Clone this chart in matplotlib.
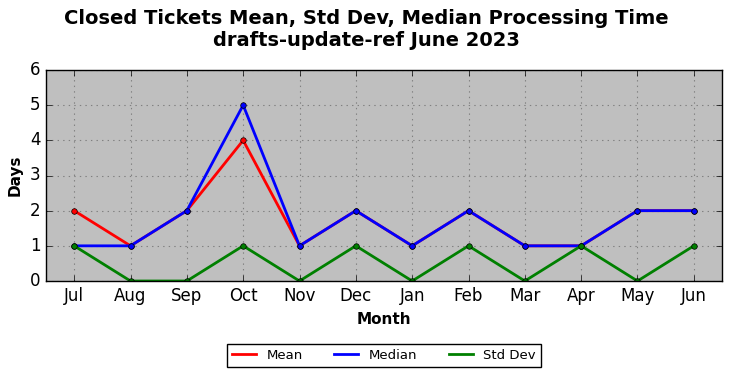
import matplotlib
matplotlib.use("Agg")
import matplotlib.pyplot as plt

months = ["Jul", "Aug", "Sep", "Oct", "Nov", "Dec", "Jan", "Feb", "Mar", "Apr", "May", "Jun"]
mean_vals = [2, 1, 2, 4, 1, 2, 1, 2, 1, 1, 2, 2]
median_vals = [1, 1, 2, 5, 1, 2, 1, 2, 1, 1, 2, 2]
std_vals = [1, 0, 0, 1, 0, 1, 0, 1, 0, 1, 0, 1]

plt.style.use("classic")
fig = plt.figure(figsize=(7.32, 3.78), dpi=100, facecolor="white")
ax = fig.add_axes([46/732, 1-281/378, (722-46)/732, (281-70)/378])
ax.set_facecolor("#bfbfbf")
ax.set_axisbelow(True)
x = list(range(len(months)))
ax.plot(x, mean_vals, color="red", lw=2, marker="o", ms=4, label="Mean")
ax.plot(x, median_vals, color="blue", lw=2, marker="o", ms=4, label="Median")
ax.plot(x, std_vals, color="green", lw=2, marker="o", ms=4, label="Std Dev")
ax.set_xlim(-0.5, 11.5)
ax.set_ylim(0, 6)
ax.set_xticks(x)
ax.set_xticklabels(months, fontsize=12)
ax.tick_params(axis="y", labelsize=12)
ax.grid(True, color="gray", linestyle=":", linewidth=0.8)
ax.set_xlabel("Month", fontsize=11, fontweight="bold")
ax.set_ylabel("Days", fontsize=11, fontweight="bold")
fig.suptitle("Closed Tickets Mean, Std Dev, Median Processing Time\ndrafts-update-ref June 2023",
             fontsize=14, fontweight="bold", y=0.975)
leg = ax.legend(loc="upper center", bbox_to_anchor=(0.5, -0.265), ncol=3, fontsize=9.5,
                frameon=True, fancybox=False, numpoints=1,
                handlelength=1.8, columnspacing=2.4, borderpad=0.4)
for line in leg.get_lines():
    line.set_marker("")
fig.savefig("out.png", dpi=100, facecolor="white")
